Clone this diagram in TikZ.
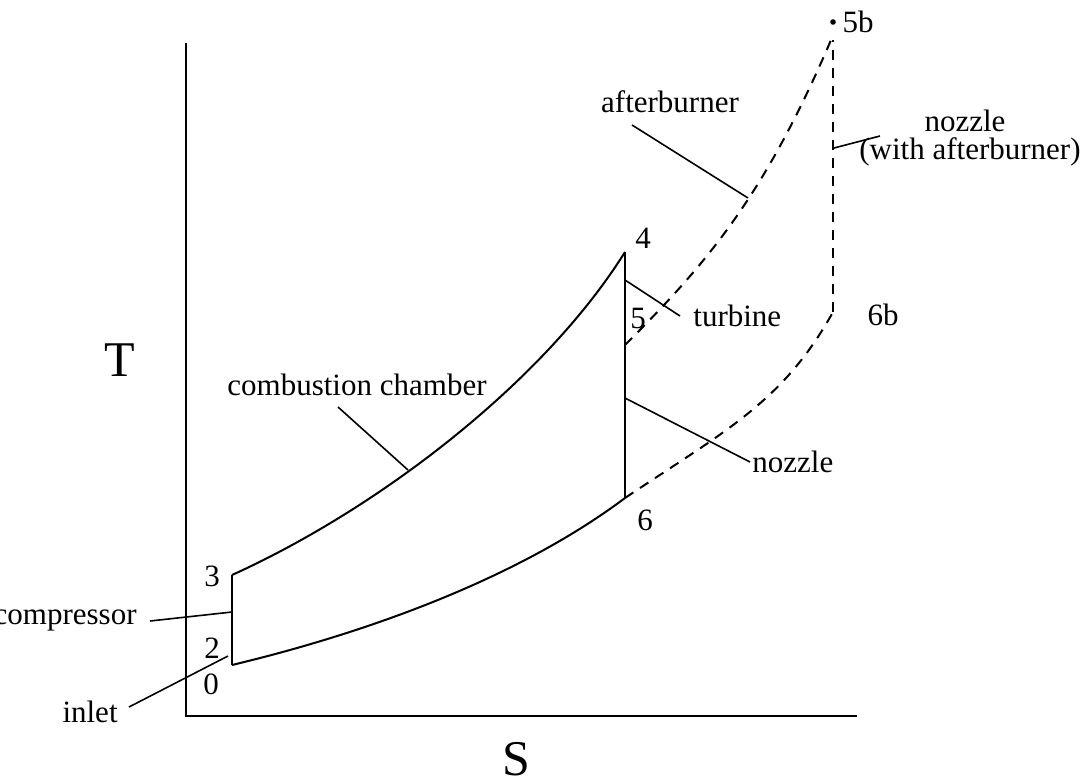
\documentclass[tikz,border=0pt]{standalone}
\usepackage{fontspec}
\setmainfont{Liberation Serif}
\begin{document}
\begin{tikzpicture}[x=0.5pt,y=-0.5pt,
  lbl/.style={font=\fontsize{15.5}{18}\selectfont, inner sep=0pt},
  axislbl/.style={font=\fontsize{25}{28}\selectfont, inner sep=0pt},
  curve/.style={line width=1pt},
  dcurve/.style={line width=1pt, dash pattern=on 5pt off 4pt},
  leader/.style={line width=0.8pt}]
\useasboundingbox (0,0) rectangle (1087,783);
% axes
\coordinate (O) at (186,716);
\coordinate (ytop) at (186,43);
\coordinate (xend) at (857,716);
\draw[line width=1pt] (ytop) -- (O) -- (xend);
\node[axislbl] (T) at (120,360) {T};
\node[axislbl] (S) at (516,759) {S};
% state points
\coordinate (p2) at (232,665);
\coordinate (p3) at (232,575);
\coordinate (p4) at (625,252);
\coordinate (p5) at (625,345);
\coordinate (p6) at (625,498);
\coordinate (p6b) at (833,312);
\coordinate (p5b) at (833,22);
\coordinate (p5bend) at (831,40);
% cycle
\draw[curve] (p2) -- (p3);
\draw[curve] (p3) .. controls (382,507) and (545,380) .. (p4);
\draw[curve] (p4) -- (p6);
\draw[curve] (p2) .. controls (382,629) and (525,573) .. (p6);
\draw[dcurve] (p6) .. controls (725,431) and (783,402) .. (p6b);
\draw[dcurve] (p6b) -- (833,40);
\draw[dcurve] (p5) .. controls (705,265) and (763,199) .. (p5bend);
\fill (p5b) circle (1.4pt);
% numbers
\node[lbl] (n3) at (212,576) {3};
\node[lbl] (n2) at (212,648) {2};
\node[lbl] (n0) at (211,684) {0};
\node[lbl] (n4) at (643,238) {4};
\node[lbl] (n5) at (638,318) {5};
\node[lbl] (n6) at (645,520) {6};
\node[lbl] (n6b) at (883,315) {6b};
\node[lbl] (n5b) at (858,22) {5b};
% labels with leaders
\node[lbl] (afterburner) at (670,102) {afterburner};
\coordinate (ab) at (748,198);
\draw[leader] (632,125) -- (ab);
\node[lbl, anchor=base] (nozzleab1) at (965,131) {nozzle};
\node[lbl, anchor=base] (nozzleab2) at (970,159) {(with afterburner)};
\coordinate (nzab) at (834,148);
\draw[leader] (nzab) -- (880,136);
\coordinate (tb) at (625,280);
\node[lbl, anchor=west] (turbine) at (693,316) {turbine};
\draw[leader] (tb) -- (680,316);
\node[lbl] (comb) at (357,385) {combustion chamber};
\coordinate (cc) at (408,470);
\draw[leader] (338,407) -- (cc);
\coordinate (nz) at (625,398);
\node[lbl, anchor=west] (nozzle) at (752,462) {nozzle};
\draw[leader] (nz) -- (750,462);
\node[lbl, anchor=east] (comp) at (137,620) {compressor};
\coordinate (cp) at (232,612);
\draw[leader] (150,621) -- (cp);
\node[lbl, anchor=east] (inlet) at (118,712) {inlet};
\coordinate (in) at (228,656);
\draw[leader] (129,707) -- (in);
\end{tikzpicture}
\end{document}
